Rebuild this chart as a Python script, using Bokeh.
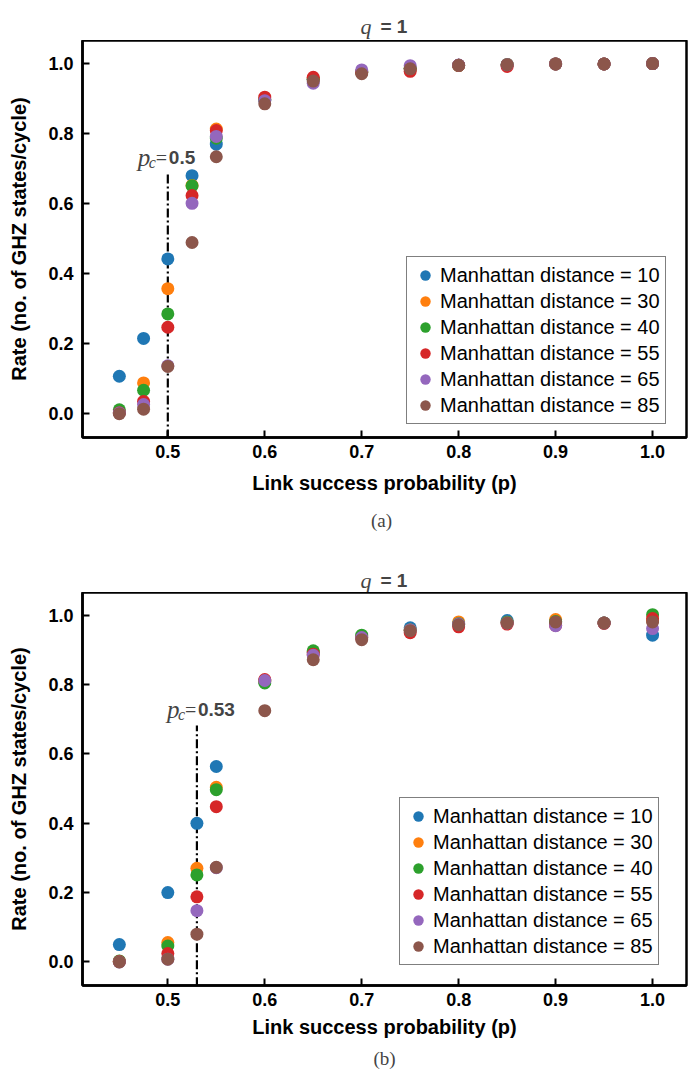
from bokeh.plotting import figure
from bokeh.layouts import column
from bokeh.models import Label, FixedTicker, NumeralTickFormatter, ColumnDataSource
from bokeh.embed import file_html
from bokeh.resources import INLINE

# ---------------- data ----------------
series_labels = ["Manhattan distance = 10", "Manhattan distance = 30", "Manhattan distance = 40",
                 "Manhattan distance = 55", "Manhattan distance = 65", "Manhattan distance = 85"]
colors = ["#1f77b4", "#ff7f0e", "#2ca02c", "#d62728", "#9467bd", "#8c564b"]

p_a = [0.45, 0.475, 0.5, 0.525, 0.55, 0.6, 0.65, 0.7, 0.75, 0.8, 0.85, 0.9, 0.95, 1.0]
a_10 = [0.107, 0.215, 0.442, 0.680, 0.770, 0.896, 0.955, 0.976, 0.986, 0.995, 0.997, 0.999, 0.999, 1.0]
a_30 = [0.003, 0.088, 0.357, 0.652, 0.813, 0.898, 0.956, 0.976, 0.986, 0.995, 0.997, 0.999, 0.999, 1.0]
a_40 = [0.011, 0.067, 0.285, 0.651, 0.787, 0.897, 0.955, 0.975, 0.986, 0.995, 0.997, 0.999, 0.999, 1.0]
a_55 = [0.003, 0.035, 0.247, 0.623, 0.809, 0.904, 0.961, 0.975, 0.978, 0.995, 0.992, 0.999, 0.999, 1.0]
a_65 = [0.002, 0.026, 0.137, 0.601, 0.792, 0.894, 0.944, 0.982, 0.994, 0.996, 0.997, 0.999, 0.999, 1.0]
a_85 = [0.000, 0.013, 0.135, 0.489, 0.734, 0.885, 0.950, 0.971, 0.985, 0.995, 0.997, 0.999, 0.999, 1.0]

p_b = [0.45, 0.5, 0.53, 0.55, 0.6, 0.65, 0.7, 0.75, 0.8, 0.85, 0.9, 0.95, 1.0]
b_10 = [0.050, 0.200, 0.400, 0.564, 0.810, 0.893, 0.938, 0.964, 0.974, 0.985, 0.978, 0.978, 0.943]
b_30 = [0.002, 0.056, 0.270, 0.504, 0.810, 0.895, 0.937, 0.958, 0.981, 0.980, 0.988, 0.978, 0.985]
b_40 = [0.003, 0.046, 0.251, 0.497, 0.805, 0.898, 0.943, 0.958, 0.976, 0.980, 0.982, 0.978, 1.002]
b_55 = [0.001, 0.024, 0.188, 0.448, 0.815, 0.888, 0.935, 0.950, 0.967, 0.975, 0.971, 0.977, 0.991]
b_65 = [0.000, 0.008, 0.148, 0.272, 0.812, 0.885, 0.936, 0.958, 0.975, 0.978, 0.970, 0.978, 0.962]
b_85 = [0.000, 0.008, 0.080, 0.273, 0.725, 0.872, 0.930, 0.956, 0.973, 0.978, 0.981, 0.978, 0.981]

pc_a, pc_a_text, pc_a_top = 0.5, "0.5", 0.686
pc_b, pc_b_text, pc_b_top = 0.53, "0.53", 0.682

x_ticks = [0.5, 0.6, 0.7, 0.8, 0.9, 1.0]
y_ticks = [0.0, 0.2, 0.4, 0.6, 0.8, 1.0]
x_label = "Link success probability (p)"
y_label = "Rate (no. of GHZ states/cycle)"
title_q, title_rest = "q", "= 1"
x_lim = (0.412, 1.035)
y_lim = (-0.068, 1.066)

SANS = "Liberation Sans"
SERIF = "Liberation Serif"
W = 693
XC = (x_lim[0] + x_lim[1]) / 2


def strip(h):
    # a text-only band whose frame is aligned with the plots' frames
    s = figure(width=W, height=h, x_range=x_lim, y_range=(0, h), output_backend="svg",
               toolbar_location=None, x_axis_location=None, y_axis_location=None,
               min_border_left=82, min_border_right=7, min_border_top=0, min_border_bottom=0,
               outline_line_color=None)
    s.grid.visible = False
    return s


def title_strip(h, base):
    s = strip(h)
    s.add_layout(Label(x=XC, y=base, x_offset=-13, text=title_q, text_font=SERIF,
                       text_font_style="italic", text_font_size="22px", text_align="right",
                       text_baseline="alphabetic"))
    s.add_layout(Label(x=XC, y=base, x_offset=-4, text=title_rest, text_font=SANS,
                       text_font_style="bold", text_font_size="19px", text_align="left",
                       text_baseline="alphabetic"))
    return s


def caption_strip(h, cy, dx, text):
    s = strip(h)
    s.add_layout(Label(x=XC, y=cy, x_offset=dx, text=text, text_font=SERIF, text_font_size="19px",
                       text_align="center", text_baseline="middle"))
    return s


def make_panel(px, series, pc, pc_text, pc_top, height, border_bottom, xlabel_standoff, legend_loc):
    p = figure(width=W, height=height, x_range=x_lim, y_range=y_lim,
               output_backend="svg", toolbar_location=None,
               min_border_left=82, min_border_right=7,
               min_border_top=0, min_border_bottom=border_bottom)
    p.xgrid.visible = False
    p.ygrid.visible = False
    p.outline_line_color = "black"
    p.outline_line_width = 2.5
    p.background_fill_color = "white"

    for ax in (p.xaxis, p.yaxis):
        ax.axis_line_color = "black"
        ax.axis_line_width = 2.5
        ax.major_tick_in = 7
        ax.major_tick_out = 0
        ax.major_tick_line_width = 2
        ax.minor_tick_line_color = None
        ax.major_label_text_font = SANS
        ax.major_label_text_font_style = "bold"
        ax.major_label_text_font_size = "18px"
        ax.major_label_text_color = "black"
        ax.axis_label_text_font = SANS
        ax.axis_label_text_font_style = "bold"
        ax.axis_label_text_font_size = "20px"
        ax.axis_label_text_color = "black"
        ax.formatter = NumeralTickFormatter(format="0.0")
    p.xaxis.major_label_standoff = 7
    p.yaxis.major_label_standoff = 9
    p.xaxis.ticker = FixedTicker(ticks=x_ticks)
    p.yaxis.ticker = FixedTicker(ticks=y_ticks)
    p.xaxis.axis_label = x_label
    p.yaxis.axis_label = y_label
    p.xaxis.axis_label_standoff = xlabel_standoff
    p.yaxis.axis_label_standoff = 15

    # critical probability line
    src = ColumnDataSource(dict(x0=[pc], y0=[y_lim[0] - 0.1], x1=[pc], y1=[pc_top]))
    p.segment("x0", "y0", "x1", "y1", source=src, line_color="black", line_width=2.2,
              line_dash="9 3 2 3")

    for ys, col, lab in zip(series, colors, series_labels):
        p.scatter(px, ys, size=13, fill_color=col, line_color=None, legend_label=lab)

    lg = p.legend[0]
    lg.location = legend_loc
    lg.label_text_font = SANS
    lg.label_text_font_size = "20px"
    lg.label_text_color = "black"
    lg.glyph_width = 26
    lg.glyph_height = 26
    lg.label_height = 26
    lg.label_standoff = 2
    lg.spacing = 0
    lg.padding = 5
    lg.margin = 0
    lg.border_line_color = "black"
    lg.border_line_width = 1.3
    lg.background_fill_alpha = 1.0

    # p_c annotation
    y_txt = pc_top + 0.045
    p.add_layout(Label(x=pc, y=y_txt, x_offset=-30, text="p", text_font=SERIF,
                       text_font_style="italic", text_font_size="25px", text_baseline="alphabetic"))
    p.add_layout(Label(x=pc, y=y_txt, x_offset=-19, y_offset=-5, text="c", text_font=SERIF,
                       text_font_style="italic", text_font_size="16px", text_baseline="alphabetic"))
    p.add_layout(Label(x=pc, y=y_txt, x_offset=-12, text="=", text_font=SERIF,
                       text_font_size="20px", text_baseline="alphabetic"))
    p.add_layout(Label(x=pc, y=y_txt, x_offset=1, text=pc_text, text_font=SANS,
                       text_font_style="bold", text_font_size="19px", text_baseline="alphabetic"))
    return p


t1 = title_strip(40, 14)
p1 = make_panel(p_a, [a_10, a_30, a_40, a_55, a_65, a_85], pc_a, pc_a_text, pc_a_top,
                462, 65, 11, (324, 13))
c1 = caption_strip(43, 25, -3, "(a)")
t2 = title_strip(47, 12)
p2 = make_panel(p_b, [b_10, b_30, b_40, b_55, b_65, b_85], pc_b, pc_b_text, pc_b_top,
                449, 56, 7, (317, 20))
c2 = caption_strip(31, 14, 0, "(b)")

layout = column(t1, p1, c1, t2, p2, c2, spacing=0)
open("out.html", "w").write(file_html(layout, INLINE))
